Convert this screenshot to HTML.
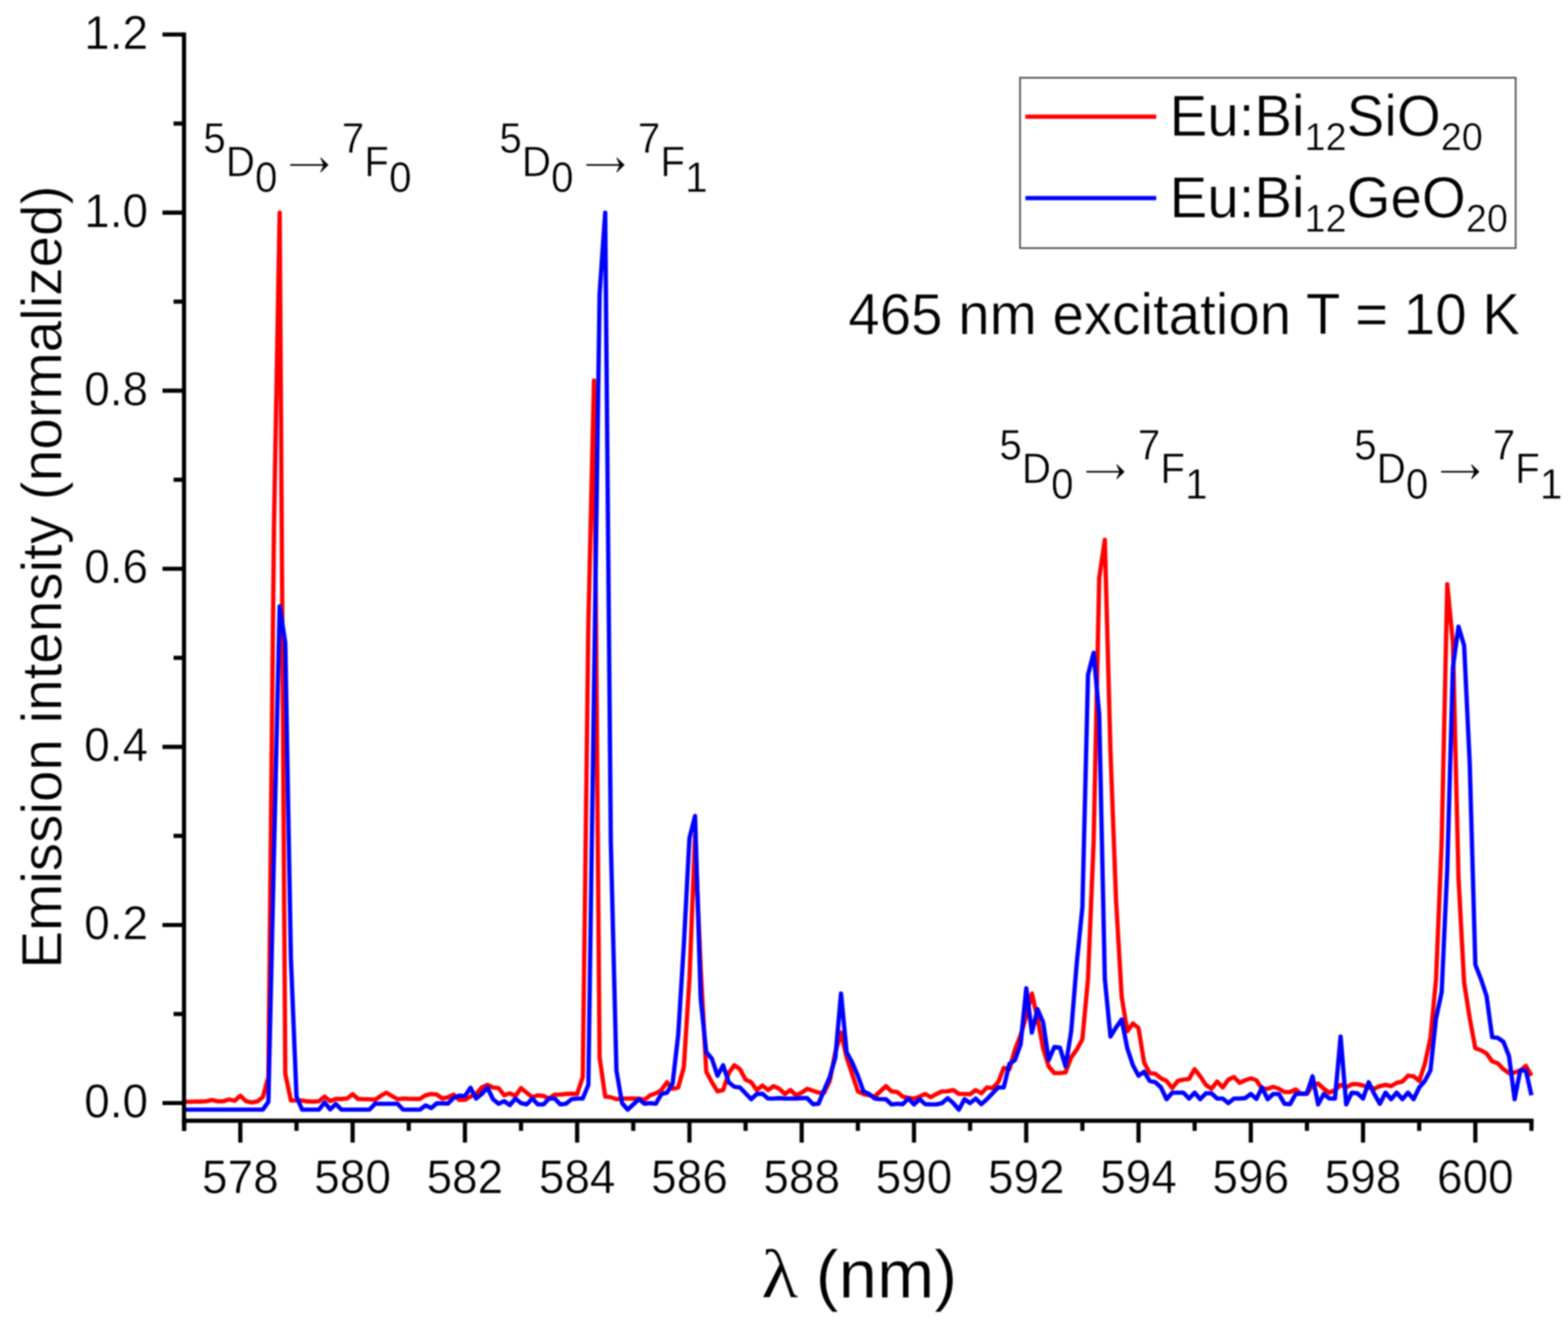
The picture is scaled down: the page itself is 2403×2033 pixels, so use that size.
<!DOCTYPE html>
<html lang="en"><head><meta charset="utf-8"><title>Emission spectra</title>
<style>html,body{margin:0;padding:0;background:#fff;}body{width:2403px;height:2033px;}svg{display:block;filter:blur(1px);}text{font-family:"Liberation Sans",sans-serif;fill:#000;stroke:#fff;stroke-width:0.7px;}.ar{font-family:"NanumGothic","DejaVu Sans","Liberation Sans",sans-serif;stroke:#000;stroke-width:0.9px;}.sym{font-family:"Liberation Serif","DejaVu Serif",serif;}</style></head><body>
<svg width="2403" height="2033" viewBox="0 0 2403 2033" role="img" aria-label="Emission spectra of Eu:Bi12SiO20 and Eu:Bi12GeO20">
<rect width="2403" height="2033" fill="#fff"/>
<g id="curves">
<path d="M282.3,1688.0 L290.9,1688.0 L299.5,1687.6 L308.1,1687.6 L316.7,1687.0 L325.3,1685.2 L333.9,1687.4 L342.5,1687.0 L351.1,1684.4 L359.7,1686.4 L368.3,1678.6 L376.9,1687.0 L385.5,1689.0 L394.1,1687.6 L402.7,1681.0 L411.3,1650.0 L419.9,805.0 L428.6,325.7 L437.2,1645.0 L445.8,1686.0 L454.4,1686.0 L463.0,1686.0 L471.6,1687.4 L480.2,1687.8 L488.8,1687.0 L497.4,1680.0 L506.0,1687.0 L514.6,1683.6 L523.2,1683.6 L531.8,1683.0 L540.4,1676.4 L549.0,1683.6 L557.6,1684.0 L566.2,1684.0 L574.8,1685.0 L583.4,1679.0 L592.0,1674.0 L600.6,1679.0 L609.2,1684.0 L617.8,1683.0 L626.4,1683.4 L635.0,1683.6 L643.6,1683.6 L652.2,1678.0 L660.8,1676.0 L669.4,1677.0 L678.0,1683.0 L686.6,1681.0 L695.2,1677.0 L703.8,1685.0 L712.5,1685.0 L721.1,1680.0 L729.7,1676.0 L738.3,1666.0 L746.9,1662.0 L755.5,1666.0 L764.1,1667.0 L772.7,1678.0 L781.3,1675.0 L789.9,1679.0 L798.5,1667.0 L807.1,1674.0 L815.7,1681.0 L824.3,1678.0 L832.9,1679.0 L841.5,1683.0 L850.1,1677.0 L858.7,1677.0 L867.3,1676.0 L875.9,1675.6 L884.5,1676.0 L893.1,1650.0 L901.7,955.0 L910.3,583.0 L918.9,1620.0 L927.5,1680.0 L936.1,1681.0 L944.7,1684.0 L953.3,1683.0 L961.9,1683.0 L970.5,1683.0 L979.1,1683.0 L987.7,1685.0 L996.3,1678.0 L1005.0,1675.0 L1013.6,1670.0 L1022.2,1658.0 L1030.8,1668.0 L1039.4,1666.0 L1048.0,1635.0 L1056.6,1500.0 L1065.2,1280.0 L1073.8,1484.0 L1082.4,1642.0 L1091.0,1658.0 L1099.6,1672.0 L1108.2,1670.0 L1116.8,1644.0 L1125.4,1632.0 L1134.0,1638.0 L1142.6,1654.0 L1151.2,1658.0 L1159.8,1670.0 L1168.4,1663.0 L1177.0,1670.0 L1185.6,1664.0 L1194.2,1668.0 L1202.8,1676.0 L1211.4,1670.0 L1220.0,1678.0 L1228.6,1674.0 L1237.2,1668.0 L1245.8,1671.0 L1254.4,1674.0 L1263.0,1674.0 L1271.6,1656.0 L1280.2,1612.0 L1288.9,1582.0 L1297.5,1620.0 L1306.1,1646.0 L1314.7,1672.0 L1323.3,1676.0 L1331.9,1678.0 L1340.5,1680.0 L1349.1,1672.0 L1357.7,1664.0 L1366.3,1672.0 L1374.9,1673.0 L1383.5,1680.0 L1392.1,1682.0 L1400.7,1683.0 L1409.3,1680.0 L1417.9,1676.0 L1426.5,1681.0 L1435.1,1676.0 L1443.7,1672.0 L1452.3,1672.0 L1460.9,1670.0 L1469.5,1676.0 L1478.1,1676.0 L1486.7,1676.4 L1495.3,1670.0 L1503.9,1675.0 L1512.5,1666.0 L1521.1,1667.0 L1529.7,1658.0 L1538.3,1636.0 L1546.9,1638.0 L1555.5,1608.0 L1564.1,1586.0 L1572.8,1556.0 L1581.4,1522.0 L1590.0,1560.0 L1598.6,1606.0 L1607.2,1634.0 L1615.8,1644.0 L1624.4,1644.0 L1633.0,1643.0 L1641.6,1620.0 L1650.2,1608.0 L1658.8,1592.0 L1667.4,1500.0 L1676.0,1290.0 L1684.6,885.0 L1693.2,827.0 L1701.8,1150.0 L1710.4,1380.0 L1719.0,1527.0 L1727.6,1580.0 L1736.2,1568.0 L1744.8,1575.0 L1753.4,1628.0 L1762.0,1644.0 L1770.6,1645.0 L1779.2,1652.0 L1787.8,1656.0 L1796.4,1667.0 L1805.0,1656.0 L1813.6,1654.0 L1822.2,1653.0 L1830.8,1638.0 L1839.4,1649.0 L1848.0,1662.0 L1856.6,1668.0 L1865.3,1657.0 L1873.9,1666.0 L1882.5,1654.0 L1891.1,1650.0 L1899.7,1659.0 L1908.3,1655.0 L1916.9,1652.0 L1925.5,1655.0 L1934.1,1668.0 L1942.7,1668.0 L1951.3,1665.0 L1959.9,1668.0 L1968.5,1673.0 L1977.1,1673.0 L1985.7,1669.0 L1994.3,1676.0 L2002.9,1676.0 L2011.5,1662.0 L2020.1,1660.0 L2028.7,1668.0 L2037.3,1674.0 L2045.9,1670.0 L2054.5,1662.0 L2063.1,1666.0 L2071.7,1661.0 L2080.3,1661.0 L2088.9,1663.0 L2097.5,1666.0 L2106.1,1668.0 L2114.7,1664.0 L2123.3,1662.0 L2131.9,1664.0 L2140.5,1659.0 L2149.2,1657.0 L2157.8,1648.0 L2166.4,1649.0 L2175.0,1656.0 L2183.6,1630.0 L2192.2,1590.0 L2200.8,1500.0 L2209.4,1290.0 L2218.0,895.0 L2226.6,985.0 L2235.2,1345.0 L2243.8,1505.0 L2252.4,1560.0 L2261.0,1606.0 L2269.6,1609.0 L2278.2,1614.0 L2286.8,1626.0 L2295.4,1629.0 L2304.0,1638.0 L2312.6,1644.0 L2321.2,1643.0 L2329.8,1640.0 L2338.4,1633.0 L2347.0,1648.0" fill="none" stroke="#ff0000" stroke-width="6.6" stroke-linejoin="round" stroke-linecap="butt"/>
<path d="M282.3,1700.0 L290.9,1700.0 L299.5,1700.0 L308.1,1700.0 L316.7,1700.0 L325.3,1700.0 L333.9,1700.0 L342.5,1700.0 L351.1,1700.0 L359.7,1700.0 L368.3,1700.0 L376.9,1700.0 L385.5,1700.0 L394.1,1700.0 L402.7,1700.0 L411.3,1688.0 L419.9,1306.0 L428.6,929.0 L437.2,985.0 L445.8,1468.0 L454.4,1680.0 L463.0,1700.0 L471.6,1700.0 L480.2,1700.0 L488.8,1700.0 L497.4,1689.0 L506.0,1699.6 L514.6,1691.4 L523.2,1700.0 L531.8,1700.0 L540.4,1700.0 L549.0,1700.0 L557.6,1700.0 L566.2,1700.0 L574.8,1691.0 L583.4,1691.0 L592.0,1691.0 L600.6,1691.0 L609.2,1691.0 L617.8,1700.0 L626.4,1700.0 L635.0,1700.0 L643.6,1700.0 L652.2,1693.6 L660.8,1697.6 L669.4,1690.4 L678.0,1690.4 L686.6,1690.6 L695.2,1682.0 L703.8,1678.6 L712.5,1679.2 L721.1,1666.6 L729.7,1683.0 L738.3,1676.0 L746.9,1666.0 L755.5,1684.0 L764.1,1691.0 L772.7,1687.0 L781.3,1693.0 L789.9,1683.0 L798.5,1690.0 L807.1,1692.0 L815.7,1683.0 L824.3,1692.0 L832.9,1692.0 L841.5,1683.0 L850.1,1683.0 L858.7,1692.0 L867.3,1691.0 L875.9,1684.0 L884.5,1683.0 L893.1,1683.0 L901.7,1662.0 L910.3,1056.0 L918.9,450.0 L927.5,325.7 L936.1,1290.0 L944.7,1640.0 L953.3,1690.0 L961.9,1700.0 L970.5,1692.0 L979.1,1684.0 L987.7,1691.0 L996.3,1690.0 L1005.0,1691.0 L1013.6,1676.0 L1022.2,1674.0 L1030.8,1660.0 L1039.4,1585.0 L1048.0,1448.0 L1056.6,1284.0 L1065.2,1250.0 L1073.8,1530.0 L1082.4,1612.0 L1091.0,1622.0 L1099.6,1648.0 L1108.2,1632.0 L1116.8,1658.0 L1125.4,1665.0 L1134.0,1666.0 L1142.6,1675.0 L1151.2,1684.0 L1159.8,1676.0 L1168.4,1675.6 L1177.0,1683.0 L1185.6,1683.0 L1194.2,1682.4 L1202.8,1683.0 L1211.4,1683.0 L1220.0,1683.0 L1228.6,1682.4 L1237.2,1682.4 L1245.8,1691.6 L1254.4,1691.0 L1263.0,1670.0 L1271.6,1650.0 L1280.2,1620.0 L1288.9,1522.0 L1297.5,1612.0 L1306.1,1628.0 L1314.7,1648.0 L1323.3,1672.0 L1331.9,1676.0 L1340.5,1683.0 L1349.1,1684.0 L1357.7,1684.0 L1366.3,1692.0 L1374.9,1691.0 L1383.5,1691.6 L1392.1,1683.0 L1400.7,1692.0 L1409.3,1684.0 L1417.9,1691.6 L1426.5,1692.0 L1435.1,1692.0 L1443.7,1690.0 L1452.3,1682.4 L1460.9,1690.0 L1469.5,1700.0 L1478.1,1684.0 L1486.7,1690.0 L1495.3,1683.0 L1503.9,1691.6 L1512.5,1684.0 L1521.1,1675.0 L1529.7,1666.0 L1538.3,1666.0 L1546.9,1630.0 L1555.5,1624.0 L1564.1,1600.0 L1572.8,1514.0 L1581.4,1582.0 L1590.0,1546.0 L1598.6,1566.0 L1607.2,1624.0 L1615.8,1604.0 L1624.4,1605.0 L1633.0,1634.0 L1641.6,1580.0 L1650.2,1475.0 L1658.8,1390.0 L1667.4,1034.0 L1676.0,1000.0 L1684.6,1095.0 L1693.2,1500.0 L1701.8,1588.0 L1710.4,1574.0 L1719.0,1562.0 L1727.6,1606.0 L1736.2,1632.0 L1744.8,1648.0 L1753.4,1642.0 L1762.0,1656.0 L1770.6,1658.0 L1779.2,1666.0 L1787.8,1684.0 L1796.4,1674.0 L1805.0,1674.0 L1813.6,1674.0 L1822.2,1683.0 L1830.8,1674.0 L1839.4,1684.0 L1848.0,1675.0 L1856.6,1675.0 L1865.3,1683.0 L1873.9,1683.0 L1882.5,1690.0 L1891.1,1683.0 L1899.7,1683.0 L1908.3,1682.4 L1916.9,1676.0 L1925.5,1683.6 L1934.1,1666.0 L1942.7,1684.0 L1951.3,1676.0 L1959.9,1676.0 L1968.5,1691.0 L1977.1,1691.6 L1985.7,1676.0 L1994.3,1675.6 L2002.9,1675.0 L2011.5,1649.0 L2020.1,1692.0 L2028.7,1676.0 L2037.3,1683.0 L2045.9,1683.0 L2054.5,1588.0 L2063.1,1692.0 L2071.7,1674.0 L2080.3,1675.0 L2088.9,1683.0 L2097.5,1658.0 L2106.1,1676.0 L2114.7,1691.0 L2123.3,1674.0 L2131.9,1684.0 L2140.5,1674.0 L2149.2,1684.0 L2157.8,1674.0 L2166.4,1684.0 L2175.0,1666.0 L2183.6,1656.0 L2192.2,1640.0 L2200.8,1560.0 L2209.4,1520.0 L2218.0,1330.0 L2226.6,1022.0 L2235.2,960.0 L2243.8,989.0 L2252.4,1170.0 L2261.0,1478.0 L2269.6,1500.0 L2278.2,1526.0 L2286.8,1589.0 L2295.4,1590.0 L2304.0,1596.0 L2312.6,1618.0 L2321.2,1684.0 L2329.8,1640.0 L2338.4,1640.0 L2347.0,1678.0" fill="none" stroke="#0000ff" stroke-width="6.6" stroke-linejoin="round" stroke-linecap="butt"/>
</g>
<g id="axes" stroke="#000" stroke-width="6.4" fill="none" stroke-linecap="butt">
<line x1="282.0" y1="49.7" x2="282.0" y2="1732.5"/>
<line x1="278.8" y1="1717.0" x2="2350.2" y2="1717.0"/>
<line x1="249" y1="1689.9" x2="282.0" y2="1689.9"/>
<line x1="266" y1="1553.5" x2="282.0" y2="1553.5"/>
<line x1="249" y1="1417.1" x2="282.0" y2="1417.1"/>
<line x1="266" y1="1280.6" x2="282.0" y2="1280.6"/>
<line x1="249" y1="1144.2" x2="282.0" y2="1144.2"/>
<line x1="266" y1="1007.8" x2="282.0" y2="1007.8"/>
<line x1="249" y1="871.4" x2="282.0" y2="871.4"/>
<line x1="266" y1="735.0" x2="282.0" y2="735.0"/>
<line x1="249" y1="598.5" x2="282.0" y2="598.5"/>
<line x1="266" y1="462.1" x2="282.0" y2="462.1"/>
<line x1="249" y1="325.7" x2="282.0" y2="325.7"/>
<line x1="266" y1="189.3" x2="282.0" y2="189.3"/>
<line x1="249" y1="52.9" x2="282.0" y2="52.9"/>
<line x1="282.3" y1="1717.0" x2="282.3" y2="1732.5"/>
<line x1="368.3" y1="1717.0" x2="368.3" y2="1750.5"/>
<line x1="454.4" y1="1717.0" x2="454.4" y2="1732.5"/>
<line x1="540.4" y1="1717.0" x2="540.4" y2="1750.5"/>
<line x1="626.4" y1="1717.0" x2="626.4" y2="1732.5"/>
<line x1="712.5" y1="1717.0" x2="712.5" y2="1750.5"/>
<line x1="798.5" y1="1717.0" x2="798.5" y2="1732.5"/>
<line x1="884.5" y1="1717.0" x2="884.5" y2="1750.5"/>
<line x1="970.5" y1="1717.0" x2="970.5" y2="1732.5"/>
<line x1="1056.6" y1="1717.0" x2="1056.6" y2="1750.5"/>
<line x1="1142.6" y1="1717.0" x2="1142.6" y2="1732.5"/>
<line x1="1228.6" y1="1717.0" x2="1228.6" y2="1750.5"/>
<line x1="1314.7" y1="1717.0" x2="1314.7" y2="1732.5"/>
<line x1="1400.7" y1="1717.0" x2="1400.7" y2="1750.5"/>
<line x1="1486.7" y1="1717.0" x2="1486.7" y2="1732.5"/>
<line x1="1572.7" y1="1717.0" x2="1572.7" y2="1750.5"/>
<line x1="1658.8" y1="1717.0" x2="1658.8" y2="1732.5"/>
<line x1="1744.8" y1="1717.0" x2="1744.8" y2="1750.5"/>
<line x1="1830.8" y1="1717.0" x2="1830.8" y2="1732.5"/>
<line x1="1916.9" y1="1717.0" x2="1916.9" y2="1750.5"/>
<line x1="2002.9" y1="1717.0" x2="2002.9" y2="1732.5"/>
<line x1="2088.9" y1="1717.0" x2="2088.9" y2="1750.5"/>
<line x1="2175.0" y1="1717.0" x2="2175.0" y2="1732.5"/>
<line x1="2261.0" y1="1717.0" x2="2261.0" y2="1750.5"/>
<line x1="2347.0" y1="1717.0" x2="2347.0" y2="1732.5"/>
</g>
<g id="yticks" font-size="70.5" text-anchor="end">
<text transform="translate(227.00,1711.90) scale(1,1.035)">0.0</text>
<text transform="translate(227.00,1439.06) scale(1,1.035)">0.2</text>
<text transform="translate(227.00,1166.22) scale(1,1.035)">0.4</text>
<text transform="translate(227.00,893.38) scale(1,1.035)">0.6</text>
<text transform="translate(227.00,620.54) scale(1,1.035)">0.8</text>
<text transform="translate(227.00,347.70) scale(1,1.035)">1.0</text>
<text transform="translate(227.00,74.86) scale(1,1.035)">1.2</text>
</g>
<g id="xticks" font-size="70.5" text-anchor="middle">
<text transform="translate(368.33,1828.00) scale(1,1.035)">578</text>
<text transform="translate(540.39,1828.00) scale(1,1.035)">580</text>
<text transform="translate(712.45,1828.00) scale(1,1.035)">582</text>
<text transform="translate(884.51,1828.00) scale(1,1.035)">584</text>
<text transform="translate(1056.57,1828.00) scale(1,1.035)">586</text>
<text transform="translate(1228.63,1828.00) scale(1,1.035)">588</text>
<text transform="translate(1400.69,1828.00) scale(1,1.035)">590</text>
<text transform="translate(1572.75,1828.00) scale(1,1.035)">592</text>
<text transform="translate(1744.81,1828.00) scale(1,1.035)">594</text>
<text transform="translate(1916.87,1828.00) scale(1,1.035)">596</text>
<text transform="translate(2088.93,1828.00) scale(1,1.035)">598</text>
<text transform="translate(2260.99,1828.00) scale(1,1.035)">600</text>
</g>
<text id="ytitle" font-size="86.7" transform="translate(93.50,1484.00) rotate(-90) scale(1,1)">Emission intensity (normalized)</text>
<text id="lam" class="sym" font-size="105.7" transform="translate(1166.50,1987.70) scale(1.115,1)">λ</text>
<text id="nm" font-size="105.6" transform="translate(1250.00,1987.70) scale(1,0.98)">(nm)</text>
<rect id="legbox" x="1563.2" y="119.1" width="759.6" height="261" fill="#fff" stroke="#505050" stroke-width="2.6"/>
<line x1="1571.5" y1="178.7" x2="1772" y2="178.7" stroke="#ff0000" stroke-width="6.6"/>
<line x1="1571.5" y1="303.5" x2="1772" y2="303.5" stroke="#0000ff" stroke-width="6.6"/>
<text id="leg1" font-size="86.5" transform="translate(1792.50,208.30) scale(1,1.03)">Eu:Bi<tspan font-size="58" dy="21.23">12</tspan><tspan dy="-21.23">SiO</tspan><tspan font-size="58" dy="21.23">20</tspan></text>
<text id="leg2" font-size="86.5" transform="translate(1792.50,333.10) scale(1,1.03)">Eu:Bi<tspan font-size="58" dy="21.23">12</tspan><tspan dy="-21.23">GeO</tspan><tspan font-size="58" dy="21.23">20</tspan></text>
<text id="exc" font-size="86.6" transform="translate(1300.00,511.80) scale(1,1.02)">465 nm excitation T = 10 K</text>
<text id="ann1" font-size="62" xml:space="preserve" style="white-space:pre" transform="translate(311.50,234.10) scale(1,1.06)"><tspan>5</tspan><tspan dy="33.96">D</tspan><tspan dy="22.45">0</tspan><tspan dy="-17.26"> </tspan><tspan class="ar" dx="1.5" font-size="64">→</tspan><tspan> </tspan><tspan dx="2.5" dy="-39.15">7</tspan><tspan dy="33.96">F</tspan><tspan dy="22.45">0</tspan></text>
<text id="ann2" font-size="62" xml:space="preserve" style="white-space:pre" transform="translate(765.20,234.10) scale(1,1.06)"><tspan>5</tspan><tspan dy="33.96">D</tspan><tspan dy="22.45">0</tspan><tspan dy="-17.26"> </tspan><tspan class="ar" dx="1.5" font-size="64">→</tspan><tspan> </tspan><tspan dx="2.5" dy="-39.15">7</tspan><tspan dy="33.96">F</tspan><tspan dy="22.45">1</tspan></text>
<text id="ann3" font-size="62" xml:space="preserve" style="white-space:pre" transform="translate(1531.50,704.10) scale(1,1.06)"><tspan>5</tspan><tspan dy="33.96">D</tspan><tspan dy="22.45">0</tspan><tspan dy="-17.26"> </tspan><tspan class="ar" dx="1.5" font-size="64">→</tspan><tspan> </tspan><tspan dx="2.5" dy="-39.15">7</tspan><tspan dy="33.96">F</tspan><tspan dy="22.45">1</tspan></text>
<text id="ann4" font-size="62" xml:space="preserve" style="white-space:pre" transform="translate(2075.30,704.10) scale(1,1.06)"><tspan>5</tspan><tspan dy="33.96">D</tspan><tspan dy="22.45">0</tspan><tspan dy="-17.26"> </tspan><tspan class="ar" dx="1.5" font-size="64">→</tspan><tspan> </tspan><tspan dx="2.5" dy="-39.15">7</tspan><tspan dy="33.96">F</tspan><tspan dy="22.45">1</tspan></text>
</svg></body></html>
